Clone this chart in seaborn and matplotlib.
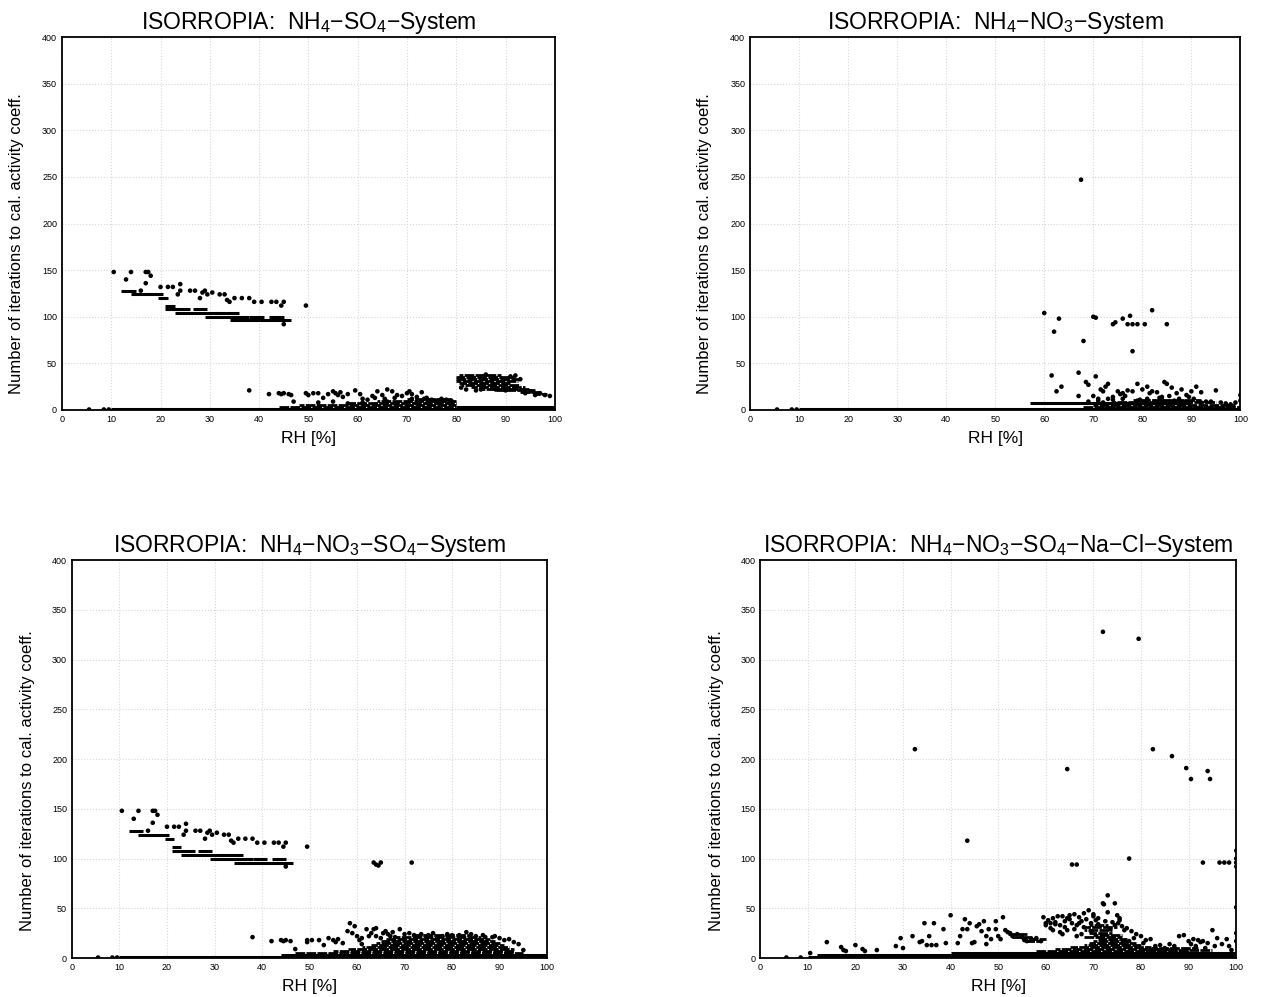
import matplotlib
matplotlib.use("Agg")
import matplotlib.pyplot as plt
import seaborn as sns
import pandas as pd

# ---- panel 1: NH4-SO4 ----
tl_x = [10.5, 13, 14, 16, 17, 17.5, 17, 18, 20, 21.5, 22.5, 24, 24, 23.5, 26, 27, 28, 28.5, 29, 29.5,
        30.5, 32, 33, 33.5, 34, 35, 36.5, 38, 39, 40.5, 42.5, 43.5, 44.5, 45, 45, 49.5,
        38, 42, 44, 44.5, 45, 46, 46.5, 47, 49.5, 50, 51, 52, 53, 54, 55, 55.5, 56, 56.5, 57, 58,
        59.5, 60.5, 61, 62, 63, 63.5, 64, 65, 65.5, 66, 67, 67.5, 68, 69, 70, 70.5, 71, 72, 73, 73.5,
        74, 75, 76, 77, 78, 79, 52, 55, 58, 61, 66, 71,
        81, 82, 84, 85, 88, 90, 91, 92, 93, 95, 97, 99, 86, 94, 96, 98, 5.5, 8.5, 9.5]
tl_y = [148, 140, 148, 128, 148, 148, 136, 144, 132, 132, 132, 135, 128, 124, 128, 128, 120, 126, 128, 124,
        126, 124, 124, 118, 116, 120, 120, 120, 116, 116, 116, 116, 112, 116, 92, 112,
        21, 17, 18, 17, 18, 17, 16, 9, 18, 16, 18, 18, 13, 17, 20, 18, 16, 19, 14, 17,
        21, 17, 12, 11, 15, 13, 20, 16, 12, 22, 20, 13, 16, 15, 18, 20, 17, 14, 19, 12,
        13, 11, 10, 12, 11, 10, 8, 9, 7, 8, 9, 12,
        24, 22, 21, 22, 22, 21, 36, 37, 33, 20, 18, 15, 38, 18, 16, 16, 0.5, 0.5, 0.5]
tl_row_start = [12, 14, 19.5, 21, 21, 26.5, 23, 31, 29, 34, 38, 42, 10, 80]
tl_row_end = [15, 20.5, 21.5, 23, 26, 29.5, 32, 36, 38, 46.5, 41, 45, 100, 100]
tl_row_y = [128, 124, 120, 112, 108, 108, 104, 104, 100, 96, 100, 100, 1, 3]
tl_cloud_start = [44, 48, 58, 64, 70,
                  80.5, 80, 80, 80, 80.5, 81, 83, 85, 88, 93, 96]
tl_cloud_end = [80, 80, 80, 80, 79,
                89, 92, 93, 92.5, 91, 93, 94, 95, 96, 97, 98.5]
tl_cloud_y = [3.5, 5.5, 7.5, 9.5, 11.5,
              37, 35, 33, 31, 29, 27, 25, 23, 21, 19, 17]

# ---- panel 2: NH4-NO3 ----
tr_x = [60, 61.5, 62, 62.5, 63, 63.5, 67, 67.5, 67, 68, 68.5, 69, 70, 70.5, 70.5, 70, 71, 71.5, 72, 72.5,
        73, 74, 74.5, 76, 77, 77.5, 78, 78, 79, 79, 80.5, 82, 85, 84.5, 85,
        74, 75, 75.5, 76, 77, 78, 80, 81, 81.5, 82, 83, 84, 86, 87, 88, 89, 90, 91, 92, 95, 100,
        73, 76.5, 79.5, 83.5, 85.5, 87.5, 89.5, 93, 96, 98, 100, 69, 71, 72, 74, 76, 79, 81, 82.5,
        84, 86.5, 88.5, 90.5, 92, 94, 97, 99, 5.5, 8.5, 9.5]
tr_y = [104, 37, 84, 20, 98, 25, 40, 247, 15, 74, 30, 27, 100, 99, 36, 15, 12, 22, 20, 25,
        28, 92, 94, 98, 92, 101, 92, 63, 92, 28, 92, 107, 92, 30, 28,
        14, 20, 17, 18, 21, 20, 22, 25, 18, 20, 19, 14, 24, 18, 22, 16, 20, 25, 19, 21, 16,
        12, 15, 11, 13, 15, 12, 14, 9, 8, 6, 10, 9, 10, 8, 11, 12, 10, 12, 9,
        11, 10, 9, 12, 8, 9, 7, 8, 0.5, 0.5, 0.5]
tr_row_start = [10, 57]
tr_row_end = [100, 90]
tr_row_y = [1, 7.5]
tr_cloud_start = [68, 70, 72, 74, 78]
tr_cloud_end = [100, 99, 97, 95, 92]
tr_cloud_y = [3, 5, 2, 9, 11]

# ---- panel 3: NH4-NO3-SO4 ----
bl_x = [10.5, 13, 14, 16, 17, 17.5, 17, 18, 20, 21.5, 22.5, 24, 24, 23.5, 26, 27, 28, 28.5, 29, 29.5,
        30.5, 32, 33, 33.5, 34, 35, 36.5, 38, 39, 40.5, 42.5, 43.5, 44.5, 45, 45, 49.5,
        63.5, 64, 64.5, 65, 71.5,
        38, 42, 44, 44.5, 45, 46, 47, 49.5, 49.5, 50.5, 52, 53, 54, 55, 55.5, 56, 57, 58, 58.5, 59,
        59.5, 60, 60.5, 61, 62, 63, 63.5, 64, 64, 65, 66, 66.5, 67, 68, 69,
        70, 72, 75, 78, 80, 83, 85, 87, 89, 90, 91, 92, 93, 94, 95, 5.5, 8.5, 9.5,
        61, 62.5, 65.5, 67.5, 71, 73.5, 76, 79, 81.5, 84, 86.5, 88.5]
bl_y = [148, 140, 148, 128, 148, 148, 136, 144, 132, 132, 132, 135, 128, 124, 128, 128, 120, 126, 128, 124,
        126, 124, 124, 118, 116, 120, 120, 120, 116, 116, 116, 116, 112, 116, 92, 112,
        96, 94, 93, 96, 96,
        21, 17, 18, 17, 18, 17, 9, 18, 16, 18, 18, 13, 20, 18, 16, 19, 15, 27, 35, 25,
        32, 22, 18, 14, 29, 25, 29, 30, 22, 20, 27, 24, 22, 21, 29,
        24, 23, 23, 22, 23, 26, 22, 21, 22, 20, 18, 19, 16, 14, 8, 0.5, 0.5, 0.5,
        20, 22, 25, 26, 25, 24, 25, 24, 23, 24, 23, 21]
bl_row_start = [12, 14, 19.5, 21, 21, 26.5, 23, 31, 29, 34, 38, 42, 10, 44]
bl_row_end = [15, 20.5, 21.5, 23, 26, 29.5, 32, 36, 38, 46.5, 41, 45, 100, 100]
bl_row_y = [128, 124, 120, 112, 108, 108, 104, 104, 100, 96, 100, 100, 1, 3]
bl_cloud_start = [47, 55, 58, 61, 63, 64, 65, 66, 68, 72]
bl_cloud_end = [95, 93, 93, 92, 91, 90, 89, 88, 86, 84]
bl_cloud_y = [5, 7, 9, 11, 13, 15, 17, 19, 21, 23]

# ---- panel 4: NH4-NO3-SO4-Na-Cl ----
br_x = [32.5, 43.5, 64.5, 65.5, 66.5, 72, 79.5, 77.5, 82.5, 86.5, 89.5, 90.5, 94, 94.5, 93, 96.5, 97.5, 98.5,
        100, 100, 100, 100, 100, 100, 73, 72, 72.2, 74.5, 95,
        10.5, 14, 17, 17.5, 18, 20, 21.5, 22, 24.5, 28.5, 29.5, 30, 32, 33.5, 34, 34.5, 35.5, 35, 36, 37,
        36.5, 38.5, 39, 40, 41.5, 42, 42.5, 43, 43.5, 44, 44.5, 45, 45.5, 46, 46.5, 47, 47.5, 47.5, 48,
        48.5, 49.5, 49.5, 50, 50.5, 51, 51.5, 52, 52.5, 53, 54, 55, 55.5, 56, 57, 58, 59, 59.5, 60,
        60, 60.5, 61, 61.5, 62, 62.5, 63, 63.5, 64, 64, 64.5, 65, 65.5, 66, 66, 66.5, 67, 67.5, 68, 68.5,
        69, 69.5, 70, 70.5, 71, 75, 75.5, 74, 76, 77, 78, 79, 80, 81,
        82, 84, 85, 86, 87, 88, 89, 90, 90.5, 91, 91.5, 92, 92.5, 93, 93.5, 94, 95.5, 96, 97, 98,
        98.5, 99, 100, 5.5, 8.5,
        61, 62, 63, 65, 67, 68, 69.5, 71, 72.5, 73.5, 74.5, 75.5, 76.5, 63.5, 66.5, 70, 73, 75.2,
        77.5, 78.5, 80.5, 83, 61.5, 64.5, 67.5]
br_y = [210, 118, 190, 94, 94, 328, 321, 100, 210, 203, 191, 180, 188, 180, 96, 96, 96, 96,
        108, 100, 96, 92, 51, 25, 63, 55, 54, 55, 28,
        5, 16, 11, 8, 7, 13, 9, 7, 8, 12, 20, 10, 22, 16, 17, 35, 22, 13, 13, 13,
        35, 29, 15, 43, 15, 22, 29, 39, 29, 35, 15, 16, 32, 34, 27, 37, 22, 14, 29,
        19, 37, 29, 22, 19, 41, 28, 26, 25, 22, 24, 21, 18, 17, 19, 20, 17, 41, 35,
        33, 38, 35, 28, 34, 42, 26, 42, 37, 31, 40, 43, 35, 44, 29, 33, 41, 37, 45, 39,
        48, 35, 42, 38, 40, 43, 40, 36, 32, 30, 27, 24, 22, 18,
        19, 13, 10, 14, 12, 22, 23, 17, 14, 19, 12, 18, 16, 17, 10, 15, 12, 20, 14, 19,
        12, 8, 17, 0.5, 0.5,
        30, 36, 33, 39, 35, 31, 27, 34, 37, 29, 33, 38, 28, 24, 22, 44, 46, 35,
        17, 20, 15, 12, 40, 28, 24]
br_row_start = [10, 12, 40]
br_row_end = [100, 100, 100]
br_row_y = [1, 3, 5]
br_cloud_start = [58, 62, 65, 68, 69, 70, 71, 68, 70, 69, 68, 68, 69,
                  52, 53, 55, 56, 80, 82]
br_cloud_end = [90, 86, 82, 80, 79, 78, 77, 76, 76, 74, 74, 75, 73,
                56, 57, 60, 59, 95, 92]
br_cloud_y = [7, 9, 11, 13, 15, 17, 19, 21, 23, 25.5, 28, 31, 33,
              24, 21, 19, 17, 8, 10]

titles = [r"ISORROPIA:  NH$_4$$-$SO$_4$$-$System",
          r"ISORROPIA:  NH$_4$$-$NO$_3$$-$System",
          r"ISORROPIA:  NH$_4$$-$NO$_3$$-$SO$_4$$-$System",
          r"ISORROPIA:  NH$_4$$-$NO$_3$$-$SO$_4$$-$Na$-$Cl$-$System"]

sns.set_style("white")
plt.rcParams["font.family"] = ["Liberation Sans", "DejaVu Sans"]
plt.rcParams["mathtext.fontset"] = "custom"
plt.rcParams["mathtext.rm"] = "Liberation Sans"
plt.rcParams["mathtext.it"] = "Liberation Sans"
plt.rcParams["mathtext.bf"] = "Liberation Sans:bold"
plt.rcParams["text.color"] = "black"
plt.rcParams["axes.labelcolor"] = "black"
plt.rcParams["xtick.color"] = "black"
plt.rcParams["ytick.color"] = "black"

fig = plt.figure(figsize=(12.67, 9.97), dpi=100)
positions = [
    [0.0489, 0.5888, 0.389, 0.374],
    [0.592, 0.5888, 0.387, 0.374],
    [0.0568, 0.0391, 0.375, 0.399],
    [0.600, 0.0391, 0.3757, 0.399],
]
panels = [
    (tl_x, tl_y, tl_row_start, tl_row_end, tl_row_y, tl_cloud_start, tl_cloud_end, tl_cloud_y),
    (tr_x, tr_y, tr_row_start, tr_row_end, tr_row_y, tr_cloud_start, tr_cloud_end, tr_cloud_y),
    (bl_x, bl_y, bl_row_start, bl_row_end, bl_row_y, bl_cloud_start, bl_cloud_end, bl_cloud_y),
    (br_x, br_y, br_row_start, br_row_end, br_row_y, br_cloud_start, br_cloud_end, br_cloud_y),
]

# staggered dash offsets so the cloud rows look speckled, not striped
dash_offsets = [0, 1.7, 0.8, 2.5, 1.2, 2.1, 0.4]

for pos, (px, py, rs, re, ry, cs, ce, cy), title in zip(positions, panels, titles):
    ax = fig.add_axes(pos)
    ax.hlines(ry, rs, re, colors="black", linewidth=2.2, zorder=3)
    styles = [(dash_offsets[i % len(dash_offsets)], (3.5, 0.45)) for i in range(len(cy))]
    ax.hlines(cy, cs, ce, colors="black", linewidth=2.0, linestyles=styles, zorder=3)
    df = pd.DataFrame({"RH": px, "iter": py})
    sns.scatterplot(data=df, x="RH", y="iter", ax=ax, color="black", s=11,
                    edgecolor="none", zorder=4)
    ax.set_xlim(0, 100)
    ax.set_ylim(0, 400)
    ax.set_xticks(range(0, 101, 10))
    ax.set_yticks(range(0, 401, 50))
    ax.grid(True, color="#d8d8d8", linestyle=":", linewidth=0.8)
    ax.tick_params(axis="both", labelsize=6.5, length=2, width=0.8, pad=1.5)
    for sp in ax.spines.values():
        sp.set_linewidth(1.3)
        sp.set_color("black")
    ax.set_xlabel("RH [%]", fontsize=12.5, labelpad=5)
    ax.set_ylabel("Number of iterations to cal. activity coeff.", fontsize=12)
    ax.yaxis.set_label_coords(-0.077, 0.447)
    ax.set_title(title, fontsize=16.5, pad=6)

fig.savefig("out.png", dpi=100)
